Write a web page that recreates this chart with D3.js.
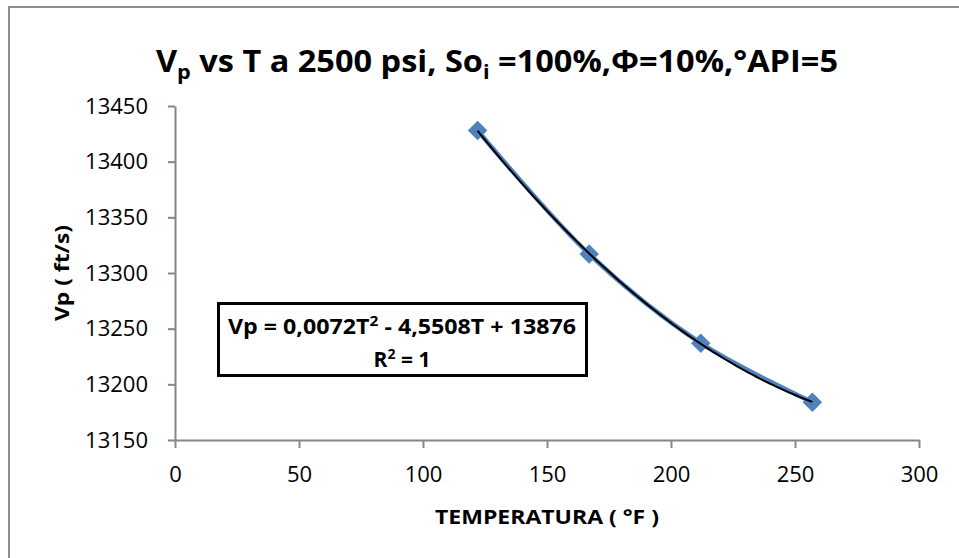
<!DOCTYPE html>
<html>
<head>
<meta charset="utf-8">
<script src="https://cdn.jsdelivr.net/npm/d3@7"></script>
<style>
  body { margin: 0; background: #fff; }
  svg { display: block; }
</style>
</head>
<body>
<div class="center"></div>
<script>
// data
var temps = [122, 167, 212, 257];
var vps = [13428, 13317, 13237, 13184];
var xTicks = [0, 50, 100, 150, 200, 250, 300];
var yTicks = [13150, 13200, 13250, 13300, 13350, 13400, 13450];

var W = 959, H = 558;
var plot = {left: 175, right: 919, top: 106, bottom: 440};

var x = d3.scaleLinear().domain([0, 300]).range([plot.left, plot.right]);
var y = d3.scaleLinear().domain([13150, 13450]).range([plot.bottom, plot.top]);

var data = temps.map(function(t, i) { return {t: t, v: vps[i]}; });

var svg = d3.select(".center").append("svg")
    .attr("width", W)
    .attr("height", H);

// chart border (only top/left visible in the picture)
svg.append("rect")
    .attr("x", 9).attr("y", 7)
    .attr("width", 980).attr("height", 600)
    .attr("fill", "#fff")
    .attr("stroke", "#8e8e8e")
    .attr("stroke-width", 2);

var axisColor = "#868686";

// x axis
var gx = svg.append("g")
    .attr("transform", "translate(0," + plot.bottom + ")")
    .call(d3.axisBottom(x).tickValues(xTicks).tickFormat(d3.format("d"))
      .tickSize(8).tickSizeOuter(0).tickPadding(18));
// y axis
var gy = svg.append("g")
    .attr("transform", "translate(" + plot.left + ",0)")
    .call(d3.axisLeft(y).tickValues(yTicks).tickFormat(d3.format("d"))
      .tickSize(7).tickSizeOuter(0).tickPadding(20));

[gx, gy].forEach(function(g) {
  g.select(".domain").attr("stroke", axisColor).attr("stroke-width", 2);
  g.selectAll(".tick line").attr("stroke", axisColor).attr("stroke-width", 2);
  g.selectAll(".tick text")
    .attr("fill", "#000")
    .style("font-family", "Open Sans")
    .style("font-size", "22px");
});

// series line (smoothed) + markers
var line = d3.line()
    .x(function(d) { return x(d.t); })
    .y(function(d) { return y(d.v); })
    .curve(d3.curveCatmullRom.alpha(0.5));

svg.append("path")
    .datum(data)
    .attr("fill", "none")
    .attr("stroke", "#4F81BD")
    .attr("stroke-width", 4.5)
    .attr("d", line);

svg.selectAll(".pt")
    .data(data)
    .enter().append("path")
    .attr("class", "pt")
    .attr("d", d3.symbol().type(d3.symbolSquare).size(190))
    .attr("transform", function(d) { return "translate(" + x(d.t) + "," + y(d.v) + ") rotate(45)"; })
    .attr("fill", "#4F81BD");

// polynomial trendline (order 2), least squares fit of the data
function quadFit(xs, ys) {
  var n = xs.length, s = [0, 0, 0, 0, 0], t = [0, 0, 0];
  for (var i = 0; i < n; i++) {
    for (var k = 0; k < 5; k++) s[k] += Math.pow(xs[i], k);
    for (var k2 = 0; k2 < 3; k2++) t[k2] += ys[i] * Math.pow(xs[i], k2);
  }
  var A = [[s[0], s[1], s[2], t[0]], [s[1], s[2], s[3], t[1]], [s[2], s[3], s[4], t[2]]];
  for (var c = 0; c < 3; c++) {
    for (var r = c + 1; r < 3; r++) {
      var f = A[r][c] / A[c][c];
      for (var j = c; j < 4; j++) A[r][j] -= f * A[c][j];
    }
  }
  var b = [0, 0, 0];
  for (var r2 = 2; r2 >= 0; r2--) {
    var sum = A[r2][3];
    for (var j2 = r2 + 1; j2 < 3; j2++) sum -= A[r2][j2] * b[j2];
    b[r2] = sum / A[r2][r2];
  }
  return b;
}
var coef = quadFit(temps, vps);
var trend = d3.range(temps[0], temps[temps.length - 1] + 0.5, 1).map(function(t) {
  return {t: t, v: coef[0] + coef[1] * t + coef[2] * t * t};
});
svg.append("path")
    .datum(trend)
    .attr("fill", "none")
    .attr("stroke", "#000")
    .attr("stroke-width", 2)
    .attr("d", d3.line().x(function(d) { return x(d.t); }).y(function(d) { return y(d.v); }));

// equation box
svg.append("rect")
    .attr("x", 218.5).attr("y", 303.5)
    .attr("width", 368).attr("height", 72)
    .attr("fill", "#fff")
    .attr("stroke", "#000")
    .attr("stroke-width", 3);

var eq1 = svg.append("text")
    .attr("x", 402).attr("y", 334)
    .attr("text-anchor", "middle")
    .style("font-family", "Open Sans")
    .style("font-weight", "bold")
    .style("font-size", "21px")
    .attr("textLength", 348)
    .attr("lengthAdjust", "spacingAndGlyphs");
eq1.append("tspan").text("Vp = 0,0072T");
eq1.append("tspan").attr("dy", -8).style("font-size", "14px").text("2");
eq1.append("tspan").attr("dy", 8).text(" - 4,5508T + 13876");

var eq2 = svg.append("text")
    .attr("x", 402).attr("y", 367)
    .attr("text-anchor", "middle")
    .style("font-family", "Open Sans")
    .style("font-weight", "bold")
    .style("font-size", "21px");
eq2.append("tspan").text("R");
eq2.append("tspan").attr("dy", -8).style("font-size", "14px").text("2");
eq2.append("tspan").attr("dy", 8).text(" = 1");

// title
var title = svg.append("text")
    .attr("x", 497).attr("y", 72)
    .attr("text-anchor", "middle")
    .style("font-family", "Open Sans")
    .style("font-weight", "bold")
    .style("font-size", "30px")
    .attr("textLength", 682)
    .attr("lengthAdjust", "spacingAndGlyphs");
title.append("tspan").text("V");
title.append("tspan").attr("dy", 7).style("font-size", "20px").text("p");
title.append("tspan").attr("dy", -7).text(" vs T a 2500 psi, So");
title.append("tspan").attr("dy", 7).style("font-size", "20px").text("i");
title.append("tspan").attr("dy", -7).text(" =100%,\u03A6=10%,\u00B0API=5");

// axis titles
svg.append("text")
    .attr("x", (plot.left + plot.right) / 2).attr("y", 524)
    .attr("text-anchor", "middle")
    .style("font-family", "Open Sans")
    .style("font-weight", "bold")
    .style("font-size", "19px")
    .attr("textLength", 224)
    .attr("lengthAdjust", "spacingAndGlyphs")
    .text("TEMPERATURA ( \u00B0F )");

svg.append("text")
    .attr("transform", "translate(69," + ((plot.top + plot.bottom) / 2) + ") rotate(-90)")
    .attr("text-anchor", "middle")
    .style("font-family", "Open Sans")
    .style("font-weight", "bold")
    .style("font-size", "20px")
    .attr("textLength", 96)
    .attr("lengthAdjust", "spacingAndGlyphs")
    .text("Vp ( ft/s)");
</script>
</body>
</html>
